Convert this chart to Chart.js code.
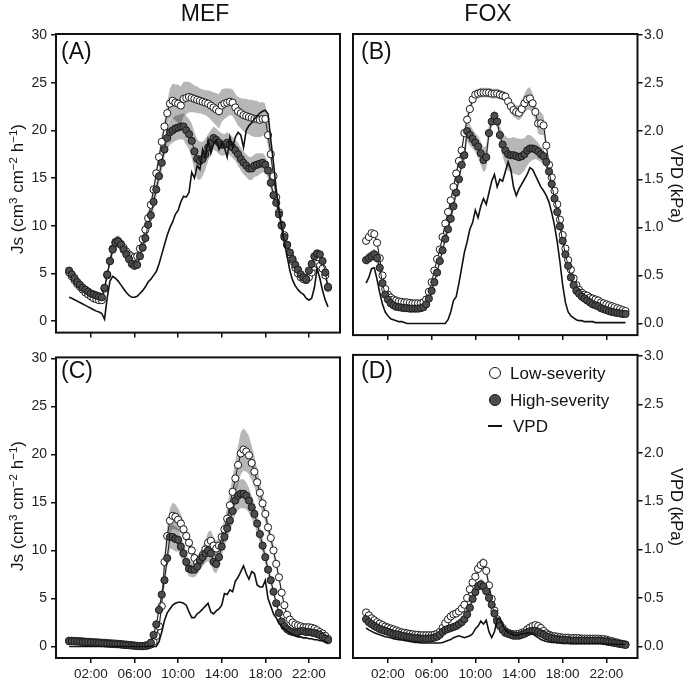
<!DOCTYPE html>
<html><head><meta charset="utf-8">
<script src="https://cdn.jsdelivr.net/npm/chart.js@4.4.1/dist/chart.umd.min.js"></script>
<style>
html,body{margin:0;padding:0;background:#fff;}
body{width:685px;height:682px;position:relative;overflow:hidden;font-family:'Liberation Sans',Arial,sans-serif;color:#111;}
canvas{position:absolute;}
.t{position:absolute;white-space:nowrap;line-height:1;}
.rot{position:absolute;white-space:nowrap;line-height:1;}
sup{font-size:0.68em;vertical-align:0.5em;line-height:0;}
.sym{position:absolute;box-sizing:border-box;border-radius:50%;border:1.3px solid #111;}
</style></head><body>
<canvas id="cA" width="345" height="345" style="left:0;top:0"></canvas>
<canvas id="cB" width="340" height="345" style="left:345px;top:0"></canvas>
<canvas id="cC" width="345" height="337" style="left:0;top:345px"></canvas>
<canvas id="cD" width="340" height="337" style="left:345px;top:345px"></canvas>

<div class="t" style="left:205px;top:2px;font-size:23px;transform:translateX(-50%)">MEF</div>
<div class="t" style="left:488px;top:2px;font-size:23px;transform:translateX(-50%)">FOX</div>
<div class="t" style="left:61px;top:40px;font-size:23px">(A)</div>
<div class="t" style="left:361px;top:40px;font-size:23px">(B)</div>
<div class="t" style="left:61px;top:359px;font-size:23px">(C)</div>
<div class="t" style="left:361px;top:359px;font-size:23px">(D)</div>
<div class="rot" style="left:16.5px;top:189px;font-size:17px;transform:translate(-50%,-50%) rotate(-90deg)">Js (cm<sup>3</sup> cm<sup>&minus;2</sup> h<sup>&minus;1</sup>)</div>
<div class="rot" style="left:16.5px;top:506px;font-size:17px;transform:translate(-50%,-50%) rotate(-90deg)">Js (cm<sup>3</sup> cm<sup>&minus;2</sup> h<sup>&minus;1</sup>)</div>
<div class="rot" style="left:677px;top:184px;font-size:16.5px;transform:translate(-50%,-50%) rotate(90deg)">VPD (kPa)</div>
<div class="rot" style="left:677px;top:507px;font-size:16.5px;transform:translate(-50%,-50%) rotate(90deg)">VPD (kPa)</div>

<div class="sym" style="left:489px;top:367px;width:12px;height:12px;background:#fff"></div>
<div class="sym" style="left:489px;top:394px;width:12px;height:12px;background:#4d4d4d"></div>
<div style="position:absolute;left:488px;top:425px;width:14px;height:2.2px;background:#111"></div>
<div class="t" id="lg1" style="left:510px;top:365px;font-size:17px"></div>
<div class="t" id="lg2" style="left:510px;top:392px;font-size:17px"></div>
<div class="t" id="lg3" style="left:513px;top:418px;font-size:17px"></div>

<script>
const times = [
"00:00","00:15","00:30","00:45","01:00","01:15","01:30","01:45",
"02:00","02:15","02:30","02:45","03:00","03:15","03:30","03:45",
"04:00","04:15","04:30","04:45","05:00","05:15","05:30","05:45",
"06:00","06:15","06:30","06:45","07:00","07:15","07:30","07:45",
"08:00","08:15","08:30","08:45","09:00","09:15","09:30","09:45",
"10:00","10:15","10:30","10:45","11:00","11:15","11:30","11:45",
"12:00","12:15","12:30","12:45","13:00","13:15","13:30","13:45",
"14:00","14:15","14:30","14:45","15:00","15:15","15:30","15:45",
"16:00","16:15","16:30","16:45","17:00","17:15","17:30","17:45",
"18:00","18:15","18:30","18:45","19:00","19:15","19:30","19:45",
"20:00","20:15","20:30","20:45","21:00","21:15","21:30","21:45",
"22:00","22:15","22:30","22:45","23:00","23:15","23:30","23:45"];

const xTickLabels = ["02:00","06:00","10:00","14:00","18:00","22:00"];
const jsTicks = [0,5,10,15,20,25,30];
const jsTickLabels = ["0","5","10","15","20","25","30"];
const vpdTicks = [0,0.5,1,1.5,2,2.5,3];
const vpdTickLabels = ["0.0","0.5","1.0","1.5","2.0","2.5","3.0"];
const panelNames = ["MEF","FOX"];
const legendLabels = ["Low-severity","High-severity","VPD"];

// Panel A (MEF)
const A_low = [5.1,4.7,4.3,3.9, 3.6,3.3,3.0,2.8, 2.6,2.4,2.3,2.2, 2.2,3.4,4.8,6.3, 7.6,8.3,8.4,8.1, 7.7,7.3,7.0,6.8, 6.7,6.8,7.6,8.6, 9.6,10.8,12.2,13.8, 15.5,17.2,18.8,20.4, 21.8,22.8,23.1,22.9, 22.8,22.6,23.3,23.4, 23.5,23.4,23.3,23.2, 23.1,23.0,22.9,22.8, 22.6,22.4,22.2,22.0, 22.6,22.8,22.9,23.0, 22.9,22.4,22.0,21.8, 21.6,21.5,21.4,21.3, 21.2,21.2,21.1,21.2, 21.2,19.5,17.5,15.2, 13.0,11.4,10.1,9.0, 8.0,7.0,6.3,5.6, 5.0,4.6,4.4,4.3, 4.6,5.1,5.7,6.0, 5.8,5.5,4.8,3.5];
const A_lowSE = [0.3,0.3,0.3,0.3, 0.3,0.3,0.3,0.3, 0.3,0.3,0.3,0.3, 0.4,0.4,0.4,0.4, 0.6,0.6,0.6,0.6, 0.4,0.4,0.4,0.4, 0.4,0.4,0.4,0.4, 0.6,0.6,0.6,0.6, 0.6,0.6,0.6,0.6, 1.2,1.6,1.8,1.9, 2.0,2.0,1.8,1.7, 1.6,1.5,1.4,1.4, 1.3,1.3,1.3,1.4, 1.5,1.6,1.7,1.8, 1.7,1.6,1.5,1.4, 1.4,1.4,1.5,1.6, 1.7,1.8,1.8,1.9, 1.9,1.9,1.8,1.8, 1.6,1.1,0.8,0.5, 0.4,0.4,0.4,0.4, 0.4,0.4,0.4,0.4, 0.4,0.4,0.4,0.4, 0.4,0.4,0.4,0.4, 0.4,0.4,0.4,0.4];
const A_high = [5.3,4.9,4.5,4.1, 3.8,3.5,3.3,3.1, 2.9,2.8,2.7,2.6, 2.5,3.5,4.9,6.3, 7.5,8.2,8.35,8.0, 7.5,7.0,6.5,6.0, 5.8,5.9,6.8,7.7, 8.7,10.1,11.1,12.5, 13.8,15.2,16.6,18.0, 19.2,19.8,20.0,20.2, 20.3,20.4,20.4,20.0, 19.6,18.9,17.8,17.0, 16.8,17.0,17.5,18.2, 18.7,19.2,19.0,18.7, 18.5,18.5,18.7,18.5, 18.2,17.9,17.5,17.0, 16.6,16.3,16.0,16.0, 16.3,16.4,16.5,16.6, 16.4,15.8,14.5,13.2, 12.4,11.2,10.0,8.8, 8.0,7.2,6.5,5.9, 5.4,4.9,4.6,4.4, 5.3,6.0,6.8,7.1, 7.0,6.3,5.1,3.6];
const A_highSE = [0.4,0.4,0.4,0.4, 0.4,0.4,0.4,0.4, 0.4,0.4,0.4,0.4, 0.4,0.4,0.4,0.4, 0.6,0.6,0.6,0.6, 0.4,0.4,0.4,0.4, 0.4,0.4,0.4,0.4, 0.8,0.8,0.8,0.8, 0.8,0.8,0.8,0.8, 1.2,1.3,1.3,1.3, 1.3,1.3,1.4,1.5, 1.6,1.8,2.0,2.1, 2.0,1.8,1.6,1.4, 1.3,1.2,1.2,1.2, 1.2,1.1,1.1,1.1, 1.1,1.1,1.2,1.2, 1.2,1.2,1.2,1.2, 1.2,1.2,1.1,1.0, 0.9,0.8,0.7,0.6, 0.4,0.4,0.4,0.4, 0.4,0.4,0.4,0.4, 0.4,0.4,0.4,0.4, 0.4,0.4,0.4,0.4, 0.4,0.4,0.4,0.4];
const A_vpd = [0.25,0.24,0.225,0.21, 0.195,0.18,0.165,0.15, 0.135,0.12,0.105,0.095, 0.08,0.02,0.25,0.42, 0.47,0.45,0.42,0.38, 0.34,0.30,0.27,0.25, 0.25,0.26,0.29,0.32, 0.36,0.41,0.44,0.48, 0.52,0.60,0.70,0.80, 0.90,0.98,1.04,1.12, 1.16,1.25,1.31,1.30, 1.35,1.56,1.50,1.63, 1.59,1.80,1.72,1.90, 1.76,1.86,1.90,1.80, 1.87,1.82,1.72,1.93, 1.82,1.93,1.98,1.95, 1.82,2.00,2.05,2.08, 2.12,2.15,2.18,2.20, 2.21,2.17,1.90,1.66, 1.38,1.18,0.98,0.82, 0.68,0.53,0.43,0.37, 0.33,0.30,0.28,0.24, 0.22,0.24,0.35,0.55, 0.45,0.32,0.22,0.15];

// Panel B (FOX)
const B_low = [8.6,9.0,9.4,9.3, 8.4,6.8,5.0,3.6, 3.0,2.7,2.5,2.4, 2.3,2.25,2.2,2.2, 2.15,2.1,2.1,2.1, 2.1,2.2,2.5,3.3, 4.3,5.5,6.7,7.7, 9.0,10.4,11.6,12.8, 14.2,15.6,16.9,18.0, 19.8,21.2,22.3,23.3, 23.8,23.9,24.0,24.0, 24.0,24.0,23.9,23.9, 23.9,23.8,23.7,23.6, 23.1,22.6,22.2,22.0, 21.9,22.3,22.9,23.3, 23.4,22.9,22.0,20.8, 20.8,20.6,18.5,16.5, 15.2,13.8,12.4,10.8, 9.2,7.8,6.6,5.6, 4.7,4.0,3.5,3.2, 3.0,2.9,2.7,2.6, 2.5,2.4,2.2,2.1, 2.0,1.9,1.8,1.7, 1.6,1.5,1.4,1.3];
const B_lowSE = [0.3,0.3,0.3,0.3, 0.3,0.3,0.3,0.3, 0.2,0.2,0.2,0.2, 0.2,0.2,0.2,0.2, 0.2,0.2,0.2,0.2, 0.2,0.2,0.2,0.2, 0.3,0.3,0.3,0.3, 0.3,0.3,0.3,0.3, 0.4,0.4,0.4,0.4, 0.5,0.5,0.5,0.5, 0.5,0.5,0.5,0.5, 0.5,0.5,0.5,0.5, 0.5,0.5,0.5,0.5, 0.6,0.7,0.7,0.7, 0.8,0.9,1.0,1.1, 1.2,1.0,0.9,1.1, 1.2,1.0,0.6,0.5, 0.3,0.3,0.3,0.3, 0.3,0.3,0.3,0.3, 0.3,0.3,0.3,0.3, 0.3,0.3,0.3,0.3, 0.3,0.3,0.3,0.3, 0.3,0.3,0.3,0.3, 0.3,0.3,0.3,0.3];
const B_high = [6.6,6.8,7.0,7.2, 6.8,5.8,4.2,3.0, 2.5,2.1,1.9,1.75, 1.7,1.65,1.6,1.6, 1.55,1.55,1.55,1.55, 1.6,1.7,2.0,2.6, 3.4,4.3,5.3,6.5, 7.6,8.8,9.8,10.9, 12.2,13.6,15.0,16.5, 17.5,20.0,19.6,19.2, 18.8,18.4,17.7,17.0, 17.3,19.8,21.0,21.6, 21.0,19.6,18.6,18.0, 17.6,17.5,17.5,17.4, 17.3,17.4,17.6,18.0, 18.2,18.2,18.1,17.9, 17.6,17.4,16.8,15.8, 14.5,13.0,11.6,10.1, 8.6,7.2,6.0,4.8, 4.0,3.4,3.1,2.8, 2.6,2.4,2.2,2.0, 1.9,1.8,1.6,1.5, 1.4,1.3,1.2,1.15, 1.1,1.05,1.0,1.0];
const B_highSE = [0.6,0.6,0.6,0.6, 0.6,0.5,0.4,0.3, 0.2,0.2,0.2,0.2, 0.2,0.2,0.2,0.2, 0.2,0.2,0.2,0.2, 0.2,0.2,0.2,0.2, 0.4,0.4,0.4,0.4, 0.4,0.4,0.4,0.4, 0.5,0.5,0.5,0.5, 0.9,1.1,1.1,1.0, 1.0,1.1,1.2,1.3, 1.2,0.8,0.6,0.6, 0.7,0.9,1.2,1.5, 1.7,1.8,1.9,1.9, 1.9,1.8,1.7,1.6, 1.4,1.2,1.0,0.9, 0.8,0.7,0.6,0.5, 0.3,0.3,0.3,0.3, 0.3,0.3,0.3,0.3, 0.3,0.3,0.3,0.3, 0.3,0.3,0.3,0.3, 0.3,0.3,0.3,0.3, 0.3,0.3,0.3,0.3, 0.3,0.3,0.3,0.3];
const B_vpd = [0.42,0.48,0.57,0.58, 0.46,0.32,0.20,0.12, 0.08,0.05,0.04,0.03, 0.02,0.02,0.01,0.0, 0,0,0,0, 0,0,0,0, 0,0,0,0, 0,0,0.04,0.12, 0.24,0.28,0.42,0.58, 0.74,0.85,0.98,1.05, 1.18,1.10,1.22,1.30, 1.24,1.36,1.48,1.55, 1.42,1.50,1.48,1.58, 1.68,1.60,1.42,1.33, 1.40,1.45,1.50,1.55, 1.62,1.60,1.54,1.48, 1.42,1.38,1.33,1.26, 1.15,1.02,0.85,0.64, 0.40,0.22,0.12,0.08, 0.06,0.04,0.03,0.03, 0.02,0.02,0.02,0.02, 0.01,0.01,0.01,0.01, 0.01,0.01,0.01,0.01, 0.01,0.01,0.01,0.01];

// Panel C (MEF)
const C_low = [0.6,0.6,0.58,0.56, 0.55,0.53,0.5,0.48, 0.47,0.45,0.43,0.42, 0.4,0.38,0.36,0.34, 0.32,0.3,0.28,0.26, 0.22,0.2,0.17,0.14, 0.1,0.07,0.05,0.05, 0.1,0.1,0.2,0.5, 1.1,2.1,4.2,8.8, 11.5,13.1,13.6,13.5, 13.2,12.8,12.2,11.5, 10.8,10.0,9.2,8.7, 8.9,9.5,10.1,10.8, 11.0,10.5,10.2,10.5, 11.4,12.2,13.3,14.7, 16.1,17.5,18.9,20.1, 20.5,20.3,19.9,19.1, 18.2,17.1,16.0,14.9, 13.8,12.4,11.3,10.0, 8.6,7.2,5.6,4.3, 3.3,2.8,2.5,2.3, 2.2,2.1,2.0,2.0, 2.0,1.95,1.85,1.7, 1.5,1.35,1.1,0.8];
const C_lowSE = [0.1,0.1,0.1,0.1, 0.1,0.1,0.1,0.1, 0.1,0.1,0.1,0.1, 0.1,0.1,0.1,0.1, 0.1,0.1,0.1,0.1, 0.1,0.1,0.1,0.1, 0.1,0.1,0.1,0.1, 0.1,0.2,0.2,0.3, 0.3,0.4,0.6,0.8, 1.0,1.3,1.4,1.3, 1.2,1.0,0.9,0.8, 0.8,0.8,0.7,0.7, 0.8,0.9,1.0,1.1, 1.1,0.9,0.8,0.8, 0.9,1.0,1.2,1.4, 1.6,1.8,2.0,2.2, 2.2,2.1,2.0,1.8, 1.6,1.4,1.2,1.0, 0.9,0.8,0.7,0.6, 0.5,0.4,0.4,0.3, 0.2,0.2,0.2,0.2, 0.2,0.2,0.2,0.2, 0.2,0.2,0.2,0.2, 0.2,0.2,0.2,0.2];
const C_high = [0.55,0.55,0.53,0.52, 0.5,0.48,0.46,0.44, 0.42,0.4,0.38,0.36, 0.34,0.32,0.3,0.28, 0.26,0.24,0.22,0.2, 0.17,0.15,0.12,0.1, 0.07,0.05,0.03,0.03, 0.05,0.15,0.4,1.2, 2.3,3.8,5.4,6.9, 9.2,11.4,11.4,11.2, 11.1,10.4,9.7,8.8, 8.1,8.0,8.0,8.3, 9.0,9.3,9.7,10.0, 9.7,8.8,8.6,9.3, 10.4,11.4,12.3,13.1, 14.1,15.2,15.7,15.9, 15.9,15.7,15.2,14.5, 13.8,12.8,11.7,10.5, 9.3,8.0,6.9,5.7, 4.5,3.5,2.6,2.1, 1.8,1.6,1.5,1.45, 1.5,1.6,1.6,1.5, 1.5,1.45,1.4,1.3, 1.2,1.0,0.8,0.65];
const C_highSE = [0.1,0.1,0.1,0.1, 0.1,0.1,0.1,0.1, 0.1,0.1,0.1,0.1, 0.1,0.1,0.1,0.1, 0.1,0.1,0.1,0.1, 0.1,0.1,0.1,0.1, 0.1,0.1,0.1,0.1, 0.1,0.2,0.2,0.3, 0.3,0.4,0.6,0.8, 1.0,1.2,1.3,1.3, 1.2,1.1,1.0,0.9, 0.8,0.8,0.8,0.8, 0.9,1.0,1.0,1.1, 1.1,1.0,1.0,1.0, 1.0,1.0,1.1,1.2, 1.3,1.4,1.5,1.5, 1.5,1.4,1.3,1.2, 1.1,1.0,0.9,0.8, 0.7,0.6,0.5,0.4, 0.3,0.3,0.3,0.3, 0.2,0.2,0.2,0.2, 0.2,0.2,0.2,0.2, 0.2,0.2,0.2,0.2, 0.2,0.2,0.2,0.2];
const C_vpd = [0,0,0,0, 0,0,0,0, 0,0,0,0, 0,0,0,0, 0,0,0,0, 0,0,0,0, 0,0,0,0, 0,0,0,0, 0.0,0.05,0.15,0.27, 0.35,0.39,0.43,0.45, 0.46,0.46,0.45,0.43, 0.36,0.30,0.30,0.34, 0.36,0.39,0.42,0.45, 0.36,0.34,0.37,0.39, 0.43,0.55,0.54,0.59, 0.57,0.68,0.72,0.78, 0.84,0.76,0.70,0.78, 0.76,0.64,0.62,0.62, 0.69,0.50,0.42,0.34, 0.30,0.24,0.21,0.18, 0.16,0.14,0.13,0.11, 0.10,0.10,0.09,0.09, 0.08,0.08,0.07,0.07, 0.06,0.06,0.05,0.04];

// Panel D (FOX)
const D_low = [3.5,3.2,2.9,2.7, 2.5,2.35,2.2,2.05, 1.95,1.85,1.75,1.65, 1.55,1.45,1.4,1.35, 1.3,1.25,1.2,1.2, 1.15,1.15,1.15,1.15, 1.15,1.2,1.3,1.5, 1.9,2.4,2.8,3.1, 3.3,3.4,3.6,3.9, 4.3,5.0,5.9,6.6, 7.2,8.0,8.4,8.6, 7.8,6.3,4.9,3.7, 2.8,2.3,1.9,1.55, 1.4,1.3,1.25,1.25, 1.3,1.4,1.5,1.75, 1.95,2.1,2.2,2.1, 1.9,1.6,1.35,1.2, 1.1,1.05,1.0,0.95, 0.9,0.9,0.9,0.85, 0.85,0.85,0.85,0.8, 0.8,0.8,0.8,0.8, 0.8,0.8,0.75,0.75, 0.7,0.6,0.55,0.45, 0.4,0.3,0.25,0.2];
const D_lowSE = [0.1,0.1,0.1,0.1, 0.1,0.1,0.1,0.1, 0.1,0.1,0.1,0.1, 0.1,0.1,0.1,0.1, 0.1,0.1,0.1,0.1, 0.1,0.1,0.1,0.1, 0.1,0.1,0.1,0.1, 0.1,0.1,0.1,0.1, 0.1,0.1,0.1,0.1, 0.2,0.3,0.4,0.5, 0.5,0.6,0.6,0.6, 0.6,0.5,0.4,0.3, 0.1,0.1,0.1,0.1, 0.1,0.1,0.1,0.1, 0.1,0.1,0.2,0.2, 0.2,0.2,0.2,0.2, 0.1,0.1,0.1,0.1, 0.1,0.1,0.1,0.1, 0.1,0.1,0.1,0.1, 0.1,0.1,0.1,0.1, 0.1,0.1,0.1,0.1, 0.1,0.1,0.1,0.1, 0.1,0.1,0.1,0.1, 0.1,0.1,0.1,0.1];
const D_high = [2.8,2.5,2.3,2.1, 1.95,1.8,1.7,1.6, 1.5,1.4,1.3,1.25, 1.2,1.1,1.05,1.0, 0.95,0.9,0.85,0.85, 0.8,0.8,0.8,0.8, 0.85,0.9,1.0,1.2, 1.5,1.7,1.8,1.9, 2.0,2.1,2.3,2.5, 2.8,3.3,4.0,4.9, 5.6,6.2,6.4,6.2, 5.7,5.0,4.3,3.4, 2.6,2.1,1.7,1.4, 1.3,1.2,1.1,1.1, 1.1,1.2,1.3,1.45, 1.55,1.6,1.6,1.5, 1.35,1.2,1.05,0.95, 0.85,0.8,0.75,0.7, 0.7,0.65,0.65,0.6, 0.6,0.6,0.6,0.6, 0.6,0.6,0.6,0.6, 0.6,0.6,0.6,0.55, 0.5,0.45,0.4,0.35, 0.3,0.25,0.2,0.15];
const D_highSE = [0.1,0.1,0.1,0.1, 0.1,0.1,0.1,0.1, 0.1,0.1,0.1,0.1, 0.1,0.1,0.1,0.1, 0.1,0.1,0.1,0.1, 0.1,0.1,0.1,0.1, 0.1,0.1,0.1,0.1, 0.1,0.1,0.1,0.1, 0.1,0.1,0.1,0.1, 0.1,0.2,0.3,0.4, 0.5,0.5,0.6,0.6, 0.5,0.4,0.3,0.2, 0.1,0.1,0.1,0.1, 0.1,0.1,0.1,0.1, 0.1,0.1,0.1,0.1, 0.1,0.1,0.1,0.1, 0.1,0.1,0.1,0.1, 0.1,0.1,0.1,0.1, 0.1,0.1,0.1,0.1, 0.1,0.1,0.1,0.1, 0.1,0.1,0.1,0.1, 0.1,0.1,0.1,0.1, 0.1,0.1,0.1,0.1, 0.1,0.1,0.1,0.1];
const D_vpd = [0.19,0.17,0.155,0.14, 0.13,0.12,0.11,0.10, 0.095,0.09,0.08,0.075, 0.07,0.065,0.06,0.055, 0.05,0.045,0.04,0.04, 0.035,0.035,0.035,0.035, 0.035,0.035,0.035,0.035, 0.04,0.05,0.06,0.07, 0.09,0.10,0.11,0.10, 0.09,0.10,0.11,0.13, 0.18,0.21,0.26,0.23, 0.27,0.15,0.09,0.15, 0.28,0.29,0.22,0.17, 0.14,0.13,0.12,0.11, 0.12,0.13,0.13,0.14, 0.14,0.13,0.11,0.09, 0.07,0.06,0.05,0.045, 0.04,0.04,0.035,0.035, 0.03,0.03,0.03,0.03, 0.03,0.03,0.03,0.03, 0.03,0.03,0.03,0.03, 0.03,0.03,0.03,0.03, 0.025,0.025,0.025,0.025, 0.02,0.02,0.02,0.02];

document.getElementById('lg1').textContent = legendLabels[0];
document.getElementById('lg2').textContent = legendLabels[1];
document.getElementById('lg3').textContent = legendLabels[2];

const FONT = "'Liberation Sans', Arial, sans-serif";
const toHours = s => parseInt(s.slice(0,2),10) + parseInt(s.slice(3,5),10)/60;
const hours = times.map(toHours);
const xTickPos = xTickLabels.map(toHours);
const BAND = 'rgba(15,15,15,0.3)';
const INK = '#1a1a1a';

const framePlugin = {
  id: 'frame',
  afterDatasetsDraw(chart) {
    const {ctx, chartArea: a} = chart;
    ctx.save();
    ctx.strokeStyle = '#111';
    ctx.lineWidth = 2;
    ctx.strokeRect(a.left, a.top, a.right - a.left, a.bottom - a.top);
    ctx.restore();
  }
};

function pts(arr) { return arr.map((v, i) => ({x: hours[i], y: v})); }
function bandPts(arr, se, sign) { return arr.map((v, i) => ({x: hours[i], y: v + sign * se[i]})); }

function makePanel(id, low, lowSE, high, highSE, vpd, o) {
  const gridOpt = {display: true, drawOnChartArea: false, drawTicks: true, tickLength: 5, color: '#111', lineWidth: 1.5};
  new Chart(document.getElementById(id), {
    type: 'line',
    data: {
      datasets: [
        {data: bandPts(low, lowSE, 1), fill: '+1', backgroundColor: BAND, borderWidth: 0, pointRadius: 0, order: 10},
        {data: bandPts(low, lowSE, -1), fill: false, borderWidth: 0, pointRadius: 0, order: 10},
        {data: bandPts(high, highSE, 1), fill: '+1', backgroundColor: BAND, borderWidth: 0, pointRadius: 0, order: 9},
        {data: bandPts(high, highSE, -1), fill: false, borderWidth: 0, pointRadius: 0, order: 9},
        {label: legendLabels[0], data: pts(low), borderColor: INK, borderWidth: 1, pointRadius: 3.6,
         pointBackgroundColor: '#ffffff', pointBorderColor: INK, pointBorderWidth: 1, fill: false, order: 2},
        {label: legendLabels[1], data: pts(high), borderColor: INK, borderWidth: 1, pointRadius: 3.6,
         pointBackgroundColor: '#4d4d4d', pointBorderColor: INK, pointBorderWidth: 1, fill: false, order: 1},
        {label: legendLabels[2], data: pts(vpd), yAxisID: 'y2', borderColor: '#111', borderWidth: 1.6,
         pointRadius: 0, fill: false, order: 0}
      ]
    },
    options: {
      responsive: false, animation: false, devicePixelRatio: 1,
      layout: {padding: o.pad},
      plugins: {legend: {display: false}, tooltip: {enabled: false}},
      scales: {
        x: {
          type: 'linear', position: 'bottom', min: -1.2, max: 24.85,
          afterBuildTicks: s => { s.ticks = xTickPos.map(v => ({value: v})); },
          afterFit: s => { s.height = o.xH; },
          grid: gridOpt, border: {display: false},
          ticks: {display: o.xLabels, autoSkip: false, maxRotation: 0, padding: 3, color: '#222',
                  font: {size: 13.5, family: FONT}, callback: (v, i) => xTickLabels[i]}
        },
        y: {
          position: 'left', display: o.left, min: -1.2, max: 30.1,
          afterBuildTicks: s => { s.ticks = jsTicks.map(v => ({value: v})); },
          afterFit: s => { s.width = o.left ? 56 : 0; },
          grid: gridOpt, border: {display: false},
          ticks: {padding: 4, color: '#222', font: {size: 14, family: FONT}, callback: (v, i) => jsTickLabels[i]}
        },
        y2: {
          position: 'right', display: o.right, min: -0.12, max: 3.01,
          afterBuildTicks: s => { s.ticks = vpdTicks.map(v => ({value: v})); },
          afterFit: s => { s.width = o.right ? 47.5 : 0; },
          grid: gridOpt, border: {display: false},
          ticks: {padding: 1.5, color: '#222', font: {size: 14, family: FONT}, callback: (v, i) => vpdTickLabels[i]}
        }
      }
    },
    plugins: [framePlugin]
  });
}

makePanel('cA', A_low, A_lowSE, A_high, A_highSE, A_vpd,
  {pad: {top: 34, right: 4.5, left: 0, bottom: 0}, xH: 6, xLabels: false, left: true, right: false});
makePanel('cB', B_low, B_lowSE, B_high, B_highSE, B_vpd,
  {pad: {top: 34, right: 0, left: 8, bottom: 0}, xH: 6, xLabels: false, left: false, right: true});
makePanel('cC', C_low, C_lowSE, C_high, C_highSE, C_vpd,
  {pad: {top: 8, right: 4.5, left: 0, bottom: 0}, xH: 24, xLabels: true, left: true, right: false});
makePanel('cD', D_low, D_lowSE, D_high, D_highSE, D_vpd,
  {pad: {top: 8, right: 0, left: 8, bottom: 0}, xH: 24, xLabels: true, left: false, right: true});
</script>
</body></html>
